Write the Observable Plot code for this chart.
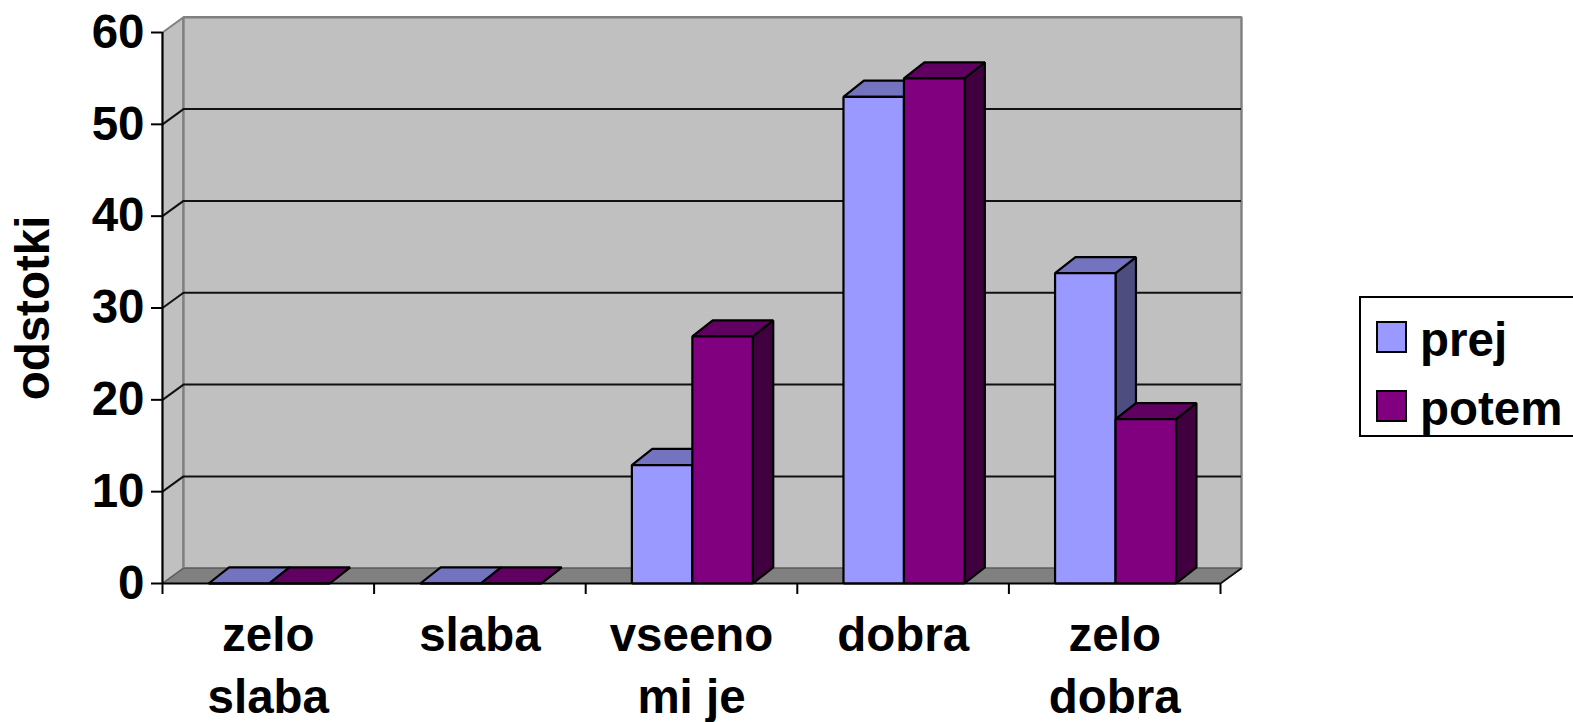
<!DOCTYPE html>
<html>
<head>
<meta charset="utf-8">
<script src="https://cdn.jsdelivr.net/npm/d3@7"></script>
<script src="https://cdn.jsdelivr.net/npm/@observablehq/plot@0.6"></script>
<style>
  html, body { margin: 0; padding: 0; background: #fff; overflow: hidden; }
  #wrap { position: relative; width: 1573px; height: 722px; overflow: hidden; font-family: "Liberation Sans", Arial, sans-serif; }
  #wrap svg { display: block; }
  .legend { position: absolute; left: 1359px; top: 296px; width: 240px; height: 141px; box-sizing: border-box; border: 2px solid #000; background: #fff; }
  .legend .sw { position: absolute; left: 15px; width: 31px; height: 32px; box-sizing: border-box; border: 2px solid #000; }
  .legend .lb { position: absolute; left: 59px; font-size: 47.5px; font-weight: bold; line-height: 46px; color: #000; white-space: nowrap; }
</style>
</head>
<body>
<div id="wrap"></div>
<script>
const categories = ["zelo\nslaba", "slaba", "vseeno\nmi je", "dobra", "zelo\ndobra"];
const seriesNames = ["prej", "potem"];
const prej = [0, 0, 12.9, 53, 33.8];
const potem = [0, 0, 26.9, 55, 17.9];
const yTicks = [0, 10, 20, 30, 40, 50, 60];
const xBoundaries = [0, 1, 2, 3, 4, 5];
const frontColors = ["#9999FF", "#800080"];
const topColors = ["#7373BF", "#600060"];
const sideColors = ["#4D4D80", "#400040"];

// Depth of the pseudo-3D box, in scale units (categories, percent)
const wallDX = 0.0992, wallDY = 1.66;
const barDX = 0.0965, barDY = 1.75;
const barW = 0.2858, barShift = 0.004;

const poly = (pts, fill, stroke, strokeWidth = 2.2) =>
  Plot.line(pts, {x: "0", y: "1", fill, stroke, strokeWidth, strokeLinejoin: "miter", strokeLinecap: "butt"});

const marks = [];
const n = categories.length, yMax = yTicks[yTicks.length - 1];

// back wall, left wall, floor
marks.push(poly([[0,0],[wallDX,wallDY],[wallDX,yMax+wallDY],[0,yMax],[0,0]], "#C0C0C0", "#808080", 2));
marks.push(poly([[wallDX,wallDY],[n+wallDX,wallDY],[n+wallDX,yMax+wallDY],[wallDX,yMax+wallDY],[wallDX,wallDY]], "#C0C0C0", "#808080", 2.4));
marks.push(poly([[0,0],[n,0],[n+wallDX,wallDY],[wallDX,wallDY],[0,0]], "#808080", "#5a5a5a", 1.2));

// gridlines on back and left walls
const gridVals = yTicks.filter(v => v > 0 && v < yMax);
marks.push(Plot.ruleY(gridVals, {y: v => v + wallDY, x1: wallDX, x2: n + wallDX, stroke: "#111", strokeWidth: 2}));
marks.push(Plot.link(gridVals, {x1: 0, y1: v => v, x2: wallDX, y2: v => v + wallDY, stroke: "#111", strokeWidth: 2}));

// floor's right edge
marks.push(Plot.link([0], {x1: n, y1: 0, x2: n + wallDX, y2: wallDY, stroke: "#111", strokeWidth: 1.8}));

// bars
categories.forEach((c, i) => {
  [prej, potem].forEach((series, s) => {
    const v = series[i];
    const x0 = i + 0.5 + barShift - barW + s * barW, x1 = x0 + barW;
    marks.push(poly([[x1,0],[x1+barDX,barDY],[x1+barDX,v+barDY],[x1,v],[x1,0]], sideColors[s], "#000"));
    marks.push(poly([[x0,v],[x0+barDX,v+barDY],[x1+barDX,v+barDY],[x1,v],[x0,v]], topColors[s], "#000"));
    marks.push(poly([[x0,0],[x1,0],[x1,v],[x0,v],[x0,0]], frontColors[s], "#000"));
  });
});

// axes
marks.push(Plot.axisY({
  ticks: yTicks, tickSize: 11, tickPadding: 7, fontSize: 47.5, fontWeight: "bold",
  stroke: "#000", strokeWidth: 2, fill: "#000",
  label: "odstotki", labelAnchor: "center", labelArrow: "none", labelOffset: 147
}));
marks.push(Plot.ruleX([0], {y1: 0, y2: yMax, stroke: "#000", strokeWidth: 2}));
marks.push(Plot.ruleY([0], {x1: 0, x2: n, stroke: "#000", strokeWidth: 2.2}));
marks.push(Plot.axisX({ticks: xBoundaries, tickSize: 11, tickFormat: () => "", stroke: "#000", strokeWidth: 2, label: null}));
marks.push(Plot.text(categories, {
  x: (d, i) => i + 0.5, y: () => 0, text: d => d, dy: 24, lineAnchor: "top", lineHeight: 1.3,
  fontSize: 47.5, fontWeight: "bold", fill: "#000"
}));

const chart = Plot.plot({
  width: 1573, height: 722,
  marginLeft: 162, marginRight: 353, marginTop: 32, marginBottom: 139,
  x: {type: "linear", domain: [0, n]},
  y: {type: "linear", domain: [0, yMax]},
  style: {background: "#fff", fontFamily: "'Liberation Sans', Arial, sans-serif", color: "#000", overflow: "visible"},
  marks
});
const wrap = document.getElementById("wrap");
wrap.appendChild(chart);

// legend
const legend = document.createElement("div");
legend.className = "legend";
const swTops = [23, 92], lbTops = [19, 88];
seriesNames.forEach((name, s) => {
  const sw = document.createElement("div");
  sw.className = "sw"; sw.style.top = swTops[s] + "px"; sw.style.background = frontColors[s];
  const lb = document.createElement("div");
  lb.className = "lb"; lb.style.top = lbTops[s] + "px"; lb.textContent = name;
  legend.append(sw, lb);
});
wrap.appendChild(legend);
</script>
</body>
</html>
